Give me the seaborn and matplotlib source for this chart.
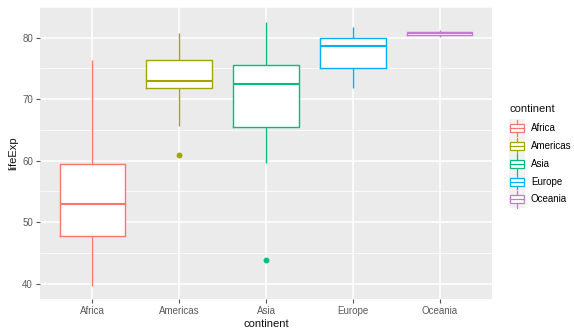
import numpy as np
import pandas as pd
import matplotlib
matplotlib.use("Agg")
import matplotlib.pyplot as plt
import seaborn as sns
from matplotlib.legend_handler import HandlerBase
from matplotlib.patches import Rectangle
from matplotlib.lines import Line2D

# ---- data (life expectancy samples per continent) ----
continents = ["Africa", "Americas", "Asia", "Europe", "Oceania"]
africa = [39.6, 47.8, 53.0, 59.4, 76.4]
americas = [60.9, 65.6, 71.8, 72.4, 72.9, 74.5, 76.3, 78.5, 80.7]
asia = [43.8, 59.6, 65.5, 70.0, 72.4, 74.0, 75.6, 79.0, 82.6]
europe = [71.9, 75.0, 78.7, 79.9, 81.8]
oceania = [80.2, 81.2]
yticks = [40, 50, 60, 70, 80]
colors = ["#F8766D", "#A3A500", "#00BF7D", "#00B0F6", "#C877D6"]

series = [africa, americas, asia, europe, oceania]
df = pd.DataFrame(
    [(c, v) for c, vals in zip(continents, series) for v in vals],
    columns=["continent", "lifeExp"],
)

plt.rcParams["font.family"] = ["Liberation Sans", "DejaVu Sans"]

fig = plt.figure(figsize=(5.74, 3.31), dpi=100)
ax = fig.add_axes([40 / 574, 1 - 299 / 331, 452 / 574, 292 / 331])

# white box interiors
sns.boxplot(data=df, x="continent", y="lifeExp", order=continents,
            color="white", saturation=1, fill=True, linewidth=0, width=0.75,
            showfliers=False, showcaps=False, ax=ax)
# coloured outlines
sns.boxplot(data=df, x="continent", y="lifeExp", hue="continent",
            order=continents, hue_order=continents, palette=colors,
            saturation=1, fill=False, width=0.75, linewidth=1.0,
            showcaps=False, legend=False,
            flierprops=dict(marker="o", markersize=3.2),
            medianprops=dict(linewidth=1.5), ax=ax)

for ln in ax.lines:
    if ln.get_marker() not in (None, "None", "", " "):
        ln.set_markerfacecolor(ln.get_markeredgecolor())

ax.set_xlim(-0.6, 4.6)
ax.set_ylim(37.5, 84.8)
ax.set_facecolor("#EBEBEB")
for s in ax.spines.values():
    s.set_visible(False)
ax.set_axisbelow(True)
ax.set_yticks(yticks)
ax.set_yticks([45, 55, 65, 75, 85], minor=True)
ax.grid(which="major", axis="both", color="white", linewidth=1.1)
ax.grid(which="minor", axis="y", color="white", linewidth=0.55)
ax.tick_params(which="major", length=3, width=0.8, color="#555555",
               labelsize=7, labelcolor="#5A5A5A", pad=2)
ax.tick_params(which="minor", length=0)
ax.set_xlabel("continent", fontsize=8, color="#111111", labelpad=2)
ax.set_ylabel("lifeExp", fontsize=8, color="#111111", labelpad=3)


class BoxHandler(HandlerBase):
    def create_artists(self, legend, orig_handle, xdescent, ydescent,
                       width, height, fontsize, trans):
        c = orig_handle.get_color()
        x0, y0 = -xdescent, -ydescent
        bg = Rectangle((x0, y0), width, height, facecolor="#F2F2F2",
                       edgecolor="none", transform=trans)
        cx = x0 + width / 2
        bh = height * 0.45
        by = y0 + (height - bh) / 2
        box = Rectangle((x0 + width * 0.06, by), width * 0.88, bh,
                        facecolor="white", edgecolor=c, linewidth=0.9,
                        transform=trans)
        w1 = Line2D([cx, cx], [y0 + height * 0.04, by], color=c,
                    linewidth=0.9, transform=trans)
        w2 = Line2D([cx, cx], [by + bh, y0 + height * 0.96], color=c,
                    linewidth=0.9, transform=trans)
        med = Line2D([x0 + width * 0.06, x0 + width * 0.94],
                     [by + bh / 2, by + bh / 2], color=c, linewidth=0.9,
                     transform=trans)
        return [bg, box, w1, w2, med]


fig.text(510 / 574, 1 - 109 / 331, "continent", fontsize=8,
         color="#111111", ha="left", va="center")
handles = [Line2D([], [], color=c) for c in colors]
leg = fig.legend(handles, continents,
                 loc="upper left", bbox_to_anchor=(509 / 574, 1 - 119 / 331),
                 frameon=False, fontsize=7,
                 handler_map={Line2D: BoxHandler()},
                 handlelength=1.65, handleheight=2.45, labelspacing=0.0,
                 handletextpad=0.6, borderpad=0, borderaxespad=0)

fig.savefig("out.png", dpi=100)
